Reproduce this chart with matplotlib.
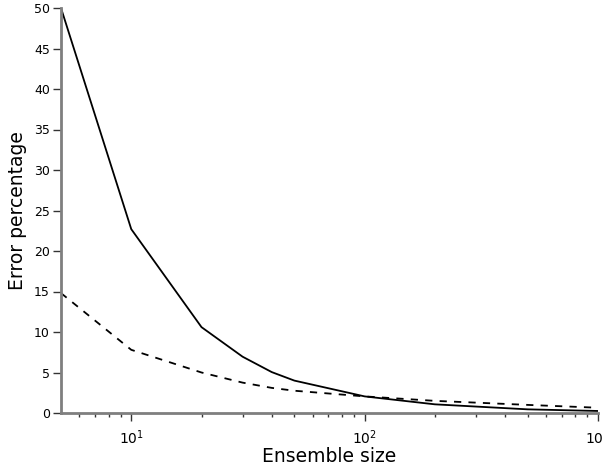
import matplotlib
matplotlib.use("Agg")
import matplotlib.pyplot as plt
from matplotlib.ticker import FixedLocator, NullFormatter

ensemble_sizes = [5, 10, 20, 30, 40, 50, 100, 200, 500, 1000]
error_solid = [50.0, 22.7, 10.6, 6.95, 5.05, 4.0, 2.05, 1.07, 0.45, 0.25]
error_dashed = [14.8, 7.8, 5.0, 3.75, 3.1, 2.75, 2.05, 1.5, 1.0, 0.65]
y_ticks = [0, 5, 10, 15, 20, 25, 30, 35, 40, 45, 50]
x_major = [10, 100, 1000]
x_minor = [6, 7, 8, 9, 20, 30, 40, 50, 60, 70, 80, 90, 200, 300, 400, 500, 600, 700, 800, 900]

fig = plt.figure(figsize=(6.02, 4.70), dpi=100)
ax = fig.add_axes([61/602, 1-413/470, (598-61)/602, (413-8)/470])

ax.plot(ensemble_sizes, error_solid, color='black', lw=1.3, linestyle='-')
ax.plot(ensemble_sizes, error_dashed, color='black', lw=1.3, linestyle=(0, (4, 4)))

ax.set_xscale('log')
ax.set_xlim(5, 1000)
ax.set_ylim(0, 50)
ax.set_yticks(y_ticks)
ax.set_yticklabels([str(v) for v in y_ticks])
ax.xaxis.set_major_locator(FixedLocator(x_major))
ax.xaxis.set_minor_locator(FixedLocator(x_minor))
ax.xaxis.set_minor_formatter(NullFormatter())
ax.set_xticklabels([r'$\mathregular{10^{1}}$', r'$\mathregular{10^{2}}$', r'$\mathregular{10^{3}}$'])

for s in ['top', 'right']:
    ax.spines[s].set_visible(False)
for s in ['left', 'bottom']:
    ax.spines[s].set_color('#7f7f7f')
    ax.spines[s].set_linewidth(2)

ax.tick_params(axis='y', which='major', direction='out', length=6, width=1, color='#333333',
               labelsize=9, pad=2)
ax.tick_params(axis='x', which='major', direction='out', length=6, width=1, color='#333333',
               labelsize=10, pad=5)
ax.tick_params(axis='x', which='minor', direction='out', length=3, width=1, color='#333333')

ax.set_xlabel('Ensemble size', fontsize=13.5, labelpad=0)
ax.set_ylabel('Error percentage', fontsize=13.5, labelpad=5)

fig.savefig('out.png', dpi=100)
